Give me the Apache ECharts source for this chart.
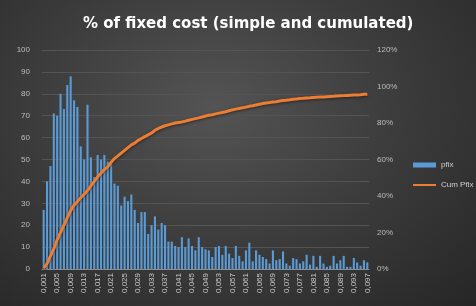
<!DOCTYPE html>
<html><head><meta charset="utf-8">
<script src="https://cdn.jsdelivr.net/npm/echarts@6/dist/echarts.min.js"></script>
<style>
html,body{margin:0;padding:0;background:#222;}
#c{width:476px;height:306px;background:radial-gradient(ellipse at 45% 35%, #545454 0%, #3e3e3e 45%, #262626 100%);}
</style></head><body>
<div id="c"></div>
<script>
const categories = ["0,001","0,002","0,003","0,004","0,005","0,006","0,007","0,008","0,009","0,010",
"0,011","0,012","0,013","0,014","0,015","0,016","0,017","0,018","0,019","0,020",
"0,021","0,022","0,023","0,024","0,025","0,026","0,027","0,028","0,029","0,030",
"0,031","0,032","0,033","0,034","0,035","0,036","0,037","0,038","0,039","0,040",
"0,041","0,042","0,043","0,044","0,045","0,046","0,047","0,048","0,049","0,050",
"0,051","0,052","0,053","0,054","0,055","0,056","0,057","0,058","0,059","0,060",
"0,061","0,062","0,063","0,064","0,065","0,066","0,067","0,068","0,069","0,070",
"0,071","0,072","0,073","0,074","0,075","0,076","0,077","0,078","0,079","0,080",
"0,081","0,082","0,083","0,084","0,085","0,086","0,087","0,088","0,089","0,090",
"0,091","0,092","0,093","0,094","0,095","0,096","0,097"];

const pfix = [27,40,47,71,70,80,73,84,88,77,
74,56,50,75,51,42,52,50,52,49,
48,39,38,29,33,31,34,27,21,26,
26,16,20,24,18,21,20,12.5,12.5,10.5,
10,14.5,10,14,10.5,8.5,14.5,10,9,8.5,
5.5,10,10.5,6.5,10.5,7,5,10.5,6,3.5,
8.5,12,3.5,8.5,6.5,5.5,4.5,2.5,8.5,4,
4.5,8,2.5,1.5,5,4.5,2.5,3.5,6.5,2,
6,1,6,2.5,1,1.5,6,2.5,4,6,
1,1,5,3,1.5,4,3];

const cumPfix = [0.5,3,7,11,16,20,24,28,32,35,
37,39,41,43,45.5,48,50.5,52.5,54.5,56,
58.5,60.5,62,63.5,65,66.5,68,69,70.5,71.5,
72.5,73.5,74.5,76,77,77.8,78.5,79,79.5,80,
80.3,80.6,81,81.5,82,82.4,82.8,83.3,83.8,84.2,
84.5,85,85.4,85.8,86.2,86.7,87.2,87.6,88,88.3,
88.7,89.2,89.5,89.9,90.3,90.7,91,91.2,91.5,91.7,
92,92.3,92.5,92.7,93,93.2,93.4,93.5,93.7,93.8,
94,94.1,94.2,94.3,94.4,94.5,94.6,94.8,94.9,95,
95.1,95.2,95.3,95.4,95.5,95.7,95.8];

const leftTicks = {min:0, max:100, interval:10};
const rightTicks = {min:0, max:120, interval:20};

const chart = echarts.init(document.getElementById('c'), null, {renderer:'canvas'});
chart.setOption({
  backgroundColor:'transparent',
  animation:false,
  title:{text:'% of fixed cost (simple and cumulated)', left:78, top:12,
    textStyle:{color:'#ffffff', fontFamily:'DejaVu Sans', fontWeight:'bold', fontSize:15}},
  legend:{orient:'vertical', left:408, top:156, itemWidth:23, itemHeight:5, itemGap:12,
    textStyle:{color:'#d0d0d0', fontSize:8, fontFamily:'Liberation Sans Narrow, Liberation Sans'},
    data:[{name:'pfix', icon:'rect'},
          {name:'Cum Pfix', icon:'path://M0,0 L23,0 L23,2 L0,2 Z'}]},
  grid:{left:42, right:107, top:50, bottom:37},
  xAxis:{type:'category', data:categories,
    axisLine:{lineStyle:{color:'#8c8c8c'}}, axisTick:{show:false},
    axisLabel:{interval:3, rotate:90, color:'#c8c8c8', fontSize:8, fontFamily:'Liberation Sans', margin:4}},
  yAxis:[
    {type:'value', min:leftTicks.min, max:leftTicks.max, interval:leftTicks.interval,
      axisLine:{show:false}, axisTick:{show:false},
      axisLabel:{color:'#bdbdbd', fontSize:8, fontFamily:'Liberation Sans', margin:12},
      splitLine:{lineStyle:{color:'#545454', width:1}}},
    {type:'value', min:rightTicks.min, max:rightTicks.max, interval:rightTicks.interval,
      axisLine:{show:false}, axisTick:{show:false},
      axisLabel:{color:'#bdbdbd', fontSize:8, fontFamily:'Liberation Sans', margin:8, formatter:'{value}%'},
      splitLine:{show:false}}
  ],
  series:[
    {name:'pfix', type:'bar', data:pfix, barWidth:'62%',
      itemStyle:{color:'#5b9bd5'}},
    {name:'Cum Pfix', type:'line', yAxisIndex:1, data:cumPfix, symbol:'none', smooth:false,
      lineStyle:{color:'#ed7d31', width:3, shadowColor:'rgba(0,0,0,0.5)', shadowBlur:3, shadowOffsetY:1},
      itemStyle:{color:'#ed7d31'}, z:5}
  ]
});
</script>
</body></html>
